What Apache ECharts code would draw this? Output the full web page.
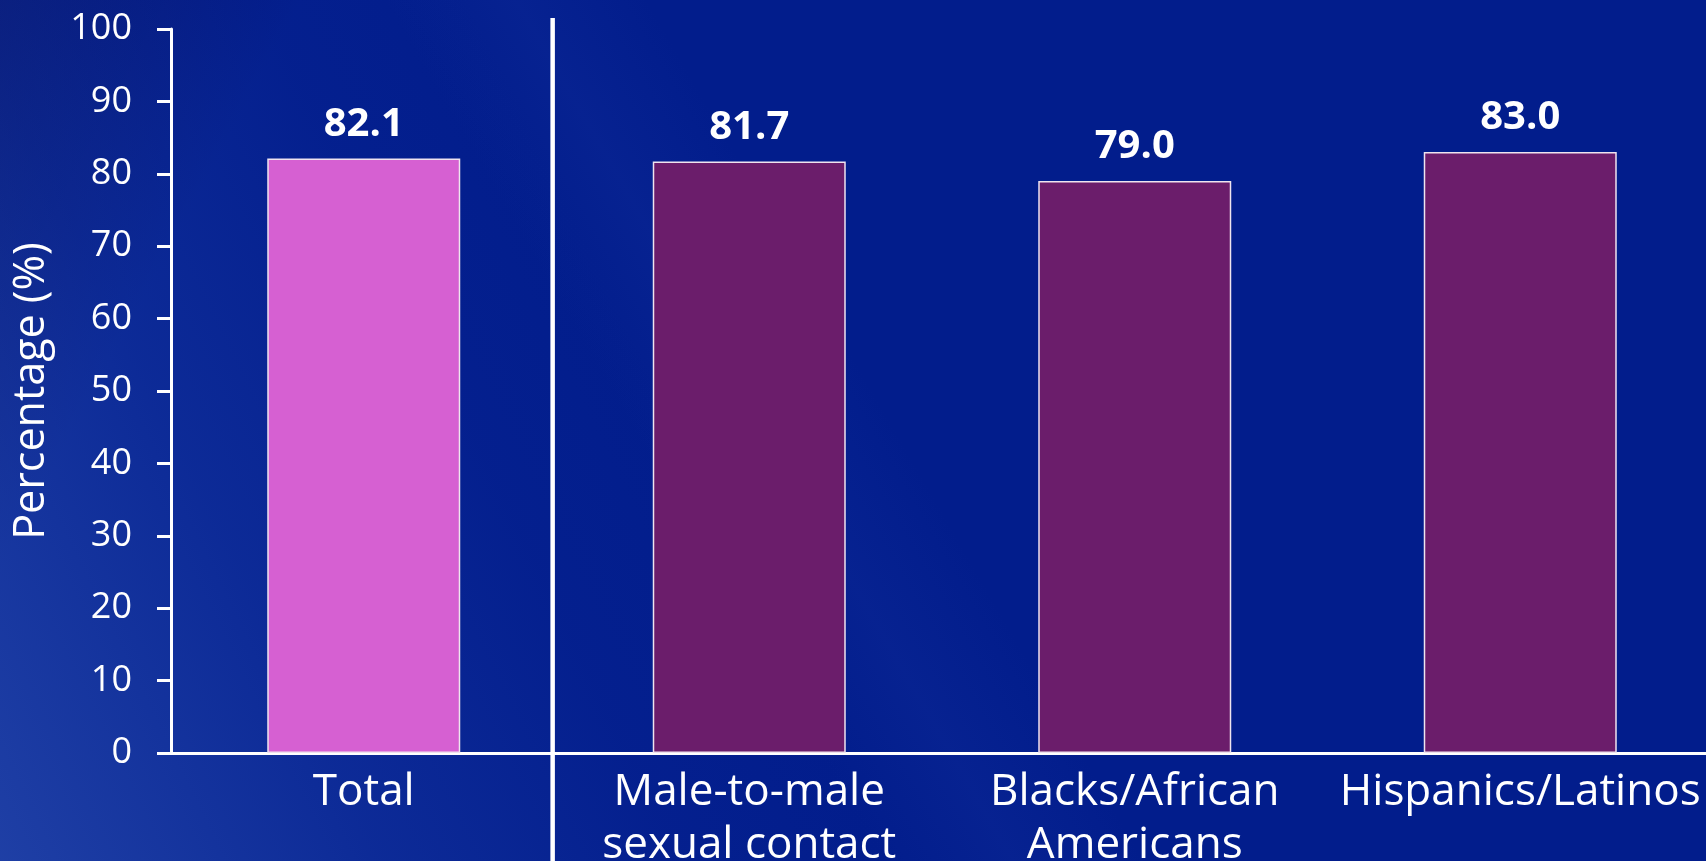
<!DOCTYPE html>
<html>
<head>
<meta charset="utf-8">
<title>Percentage by group</title>
<script src="https://cdn.jsdelivr.net/npm/echarts@6/dist/echarts.min.js"></script>
<style>
  html, body { margin: 0; padding: 0; width: 100%; height: 100%; overflow: hidden; }
  body {
    background:
      linear-gradient(64deg, rgba(70,110,200,0.42) 0%, rgba(50,90,190,0.22) 18%, rgba(30,60,170,0.08) 32%, rgba(0,0,0,0) 42%),
      linear-gradient(118deg, rgba(0,8,90,0.55) 0%, rgba(0,8,90,0) 14%),
      linear-gradient(60deg, rgba(0,0,0,0) 40%, rgba(40,70,180,0.12) 46%, rgba(0,0,0,0) 52%),
      #021d8c;
  }
  #chart { width: 1706px; height: 861px; }
</style>
</head>
<body>
<div id="chart"></div>
<script>
// Share of people in each group (percent)
const categories = ['Total', 'Male-to-male\nsexual contact', 'Blacks/African\nAmericans', 'Hispanics/Latinos'];
const percentages = [82.1, 81.7, 79.0, 83.0];
const yAxisName = 'Percentage (%)';

const totalColor = '#d660d2';
const groupColor = '#6b1d6b';
const fontFamily = '"Open Sans", "Noto Sans", sans-serif';

const chart = echarts.init(document.getElementById('chart'), null, { renderer: 'canvas' });

const option = {
  backgroundColor: 'transparent',
  animation: false,
  grid: {
    left: 171, top: 29, width: 1542, height: 724,
    containLabel: false,
    outerBoundsMode: 'none'
  },
  xAxis: {
    type: 'category',
    data: categories,
    axisLine: { show: true, lineStyle: { color: '#ffffff', width: 3 } },
    axisTick: { show: false },
    splitLine: { show: false },
    axisLabel: {
      interval: 0,
      color: '#ffffff',
      fontFamily: fontFamily,
      fontSize: 44,
      lineHeight: 53,
      margin: 13
    }
  },
  yAxis: {
    type: 'value',
    min: 0,
    max: 100,
    interval: 10,
    name: yAxisName,
    nameLocation: 'middle',
    nameRotate: 90,
    nameGap: 118,
    nameTextStyle: { color: '#ffffff', fontFamily: fontFamily, fontSize: 43 },
    axisLine: { show: true, lineStyle: { color: '#ffffff', width: 3 } },
    axisTick: { show: true, inside: false, length: 14, lineStyle: { color: '#ffffff', width: 3 } },
    splitLine: { show: false },
    axisLabel: { color: '#ffffff', fontFamily: fontFamily, fontSize: 36, margin: 39 }
  },
  series: [{
    type: 'bar',
    barWidth: 193,
    data: percentages.map((v, i) => ({
      value: v,
      itemStyle: { color: i === 0 ? totalColor : groupColor }
    })),
    itemStyle: { borderColor: '#efe4ef', borderWidth: 1.5 },
    label: {
      show: true,
      position: 'top',
      distance: 14,
      color: '#ffffff',
      fontFamily: fontFamily,
      fontWeight: 'bold',
      fontSize: 40,
      formatter: p => p.value.toFixed(1)
    }
  }]
};

chart.setOption(option);

// Divider between the overall bar and the group bars, placed between the first two categories
const c0 = chart.convertToPixel({ xAxisIndex: 0 }, categories[0]);
const c1 = chart.convertToPixel({ xAxisIndex: 0 }, categories[1]);
const top100 = chart.convertToPixel({ yAxisIndex: 0 }, 100);
const dividerX = c0 + (c1 - c0) * 0.49;
chart.setOption({
  graphic: [{
    type: 'line',
    shape: { x1: dividerX, y1: top100 - 11, x2: dividerX, y2: 861 },
    style: { stroke: '#ffffff', lineWidth: 4.5 },
    z: 10
  }]
});
</script>
</body>
</html>
